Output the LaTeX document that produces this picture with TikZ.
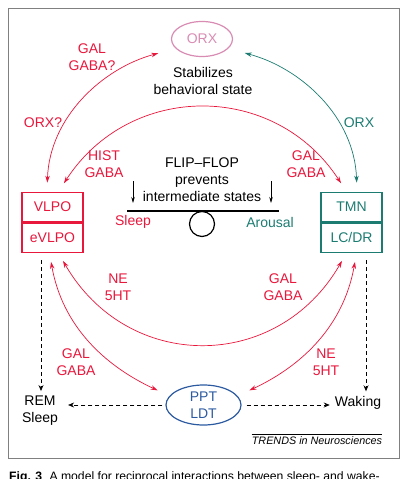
\documentclass[tikz,border=0pt]{standalone}
\usepackage{fontspec}
\setmainfont{Liberation Sans}
\usetikzlibrary{arrows.meta,shapes.geometric}
\definecolor{slpred}{HTML}{E8173C}
\definecolor{wkteal}{HTML}{1C7C72}
\definecolor{pptblue}{HTML}{2C5AA0}
\definecolor{orxpink}{HTML}{D98CB3}
\definecolor{framegray}{HTML}{808080}
\begin{document}
\begin{tikzpicture}[x=1pt,y=-1pt]
	\tikzset{lbl/.style={font=\fontsize{14}{17}\selectfont, align=center, inner sep=0pt},
		cell/.style={lbl, draw, line width=1.2pt, minimum width=61pt, minimum height=29.5pt},
		blob/.style={lbl, ellipse, draw, line width=1.2pt},
		link/.style={line width=0.7pt, {Stealth[length=7pt,width=4.5pt]}-{Stealth[length=7pt,width=4.5pt]}},
		dashlink/.style={line width=0.7pt, dash pattern=on 4pt off 3pt, -{Stealth[length=6pt,width=5pt,inset=2pt]}}}
	\useasboundingbox (0,0) rectangle (415,479);
	\draw[framegray, line width=0.9pt] (8,8) rectangle (399,458);
	\node[blob, draw=orxpink, text=orxpink, minimum width=61pt, minimum height=35pt] (orx) at (202,39) {ORX};
	\node[lbl] (stab) at (203,80.5) {Stabilizes\\behavioral state};
	\node[cell, draw=slpred, text=slpred] (vlpo) at (52.5,207) {VLPO};
	\node[cell, draw=slpred, text=slpred, anchor=north] (evlpo) at (vlpo.south) {eVLPO};
	\node[cell, draw=wkteal, text=wkteal] (tmn) at (351.5,207) {TMN};
	\node[cell, draw=wkteal, text=wkteal, anchor=north] (lcdr) at (tmn.south) {LC/DR};
	\node[blob, draw=pptblue, text=pptblue, minimum width=75pt, minimum height=40pt] (ppt) at (203.5,405) {PPT\\LDT};
	\node[lbl] (rem) at (40,411) {REM\\Sleep};
	\node[lbl] (wake) at (358,403) {Waking};
	\node[lbl] (flip) at (202,180) {FLIP–FLOP\\prevents\\intermediate states};
	\node[lbl, text=slpred] (sleep) at (133,222) {Sleep};
	\node[lbl, text=wkteal] (arousal) at (270,222) {Arousal};
	\node[circle, draw, line width=1.2pt, minimum size=25pt, inner sep=0pt] (pivot) at (202,224) {};
	\coordinate (barL) at (127,211);
	\coordinate (barR) at (279,211);
	\coordinate (pushL) at (133,181);
	\coordinate (pushR) at (271,181);
	\draw[line width=1.2pt] (barL) -- (barR);
	\draw[line width=0.7pt, -{Stealth[length=6pt,width=3.5pt]}, shorten >=8pt] (pushL) -- (pushL |- barL);
	\draw[line width=0.7pt, -{Stealth[length=6pt,width=3.5pt]}, shorten >=8pt] (pushR) -- (pushR |- barR);
	\draw[link, slpred, shorten <=9pt, shorten >=18pt] ([xshift=-5.5pt]vlpo.north) to[out=88, in=195] (orx.200);
	\draw[link, wkteal, shorten <=9pt, shorten >=17pt] ([xshift=5.5pt]tmn.north) to[out=92, in=-15] (orx.340);
	\draw[link, slpred, shorten <=10pt, shorten >=10pt] ([xshift=6pt]vlpo.north) to[out=57, in=123, looseness=1.17] ([xshift=-5pt]tmn.north);
	\draw[link, slpred, shorten <=9pt, shorten >=9pt] ([xshift=6pt]evlpo.south) to[out=-60, in=240, looseness=1.23] ([xshift=-5pt]lcdr.south);
	\draw[link, slpred, shorten <=9pt, shorten >=13pt] ([xshift=-3pt]evlpo.south) to[out=-80, in=155] (ppt.165);
	\draw[link, slpred, shorten <=9pt, shorten >=13pt] ([xshift=5pt]lcdr.south) to[out=-100, in=25] (ppt.15);
	\draw[dashlink, shorten <=7pt, shorten >=5pt] ([xshift=-11.5pt]evlpo.south) -- ([xshift=-11.5pt]evlpo.south |- rem.north);
	\draw[dashlink, shorten <=7pt, shorten >=5pt] ([xshift=14.5pt]lcdr.south) -- ([xshift=14.5pt]lcdr.south |- wake.north);
	\draw[dashlink, shorten <=3pt, shorten >=10pt] (ppt.west) -- (ppt.west -| rem.east);
	\draw[dashlink, shorten <=5pt, shorten >=5pt] (ppt.east) -- (ppt.east -| wake.west);
	\node[lbl, text=slpred] (galq) at (92,57) {GAL\\GABA?};
	\node[lbl, text=slpred] (orxq) at (43,123) {ORX?};
	\node[lbl, text=wkteal] (orxt) at (359,123) {ORX};
	\node[lbl, text=slpred] (hist) at (104,164) {HIST\\GABA};
	\node[lbl, text=slpred] (galtop) at (306,164) {GAL\\GABA};
	\node[lbl, text=slpred] (nemid) at (118,287) {NE\\5HT};
	\node[lbl, text=slpred] (galmid) at (283,287) {GAL\\GABA};
	\node[lbl, text=slpred] (galbot) at (76,362) {GAL\\GABA};
	\node[lbl, text=slpred] (nebot) at (326,362) {NE\\5HT};
	\node[font=\fontsize{10.8}{13}\selectfont\itshape, inner sep=0pt] (trends) at (317,441) {TRENDS in Neurosciences};
	\draw[line width=0.5pt] ([yshift=2.5pt]trends.north west) -- ([yshift=2.5pt]trends.north east);
	\node[anchor=base west, font=\fontsize{12.2}{14}\selectfont, inner sep=0pt] (caption) at (9,480.5) {\textbf{Fig. 3}\hspace{0.6em}A model for reciprocal interactions between sleep- and wake-};
\end{tikzpicture}
\end{document}
